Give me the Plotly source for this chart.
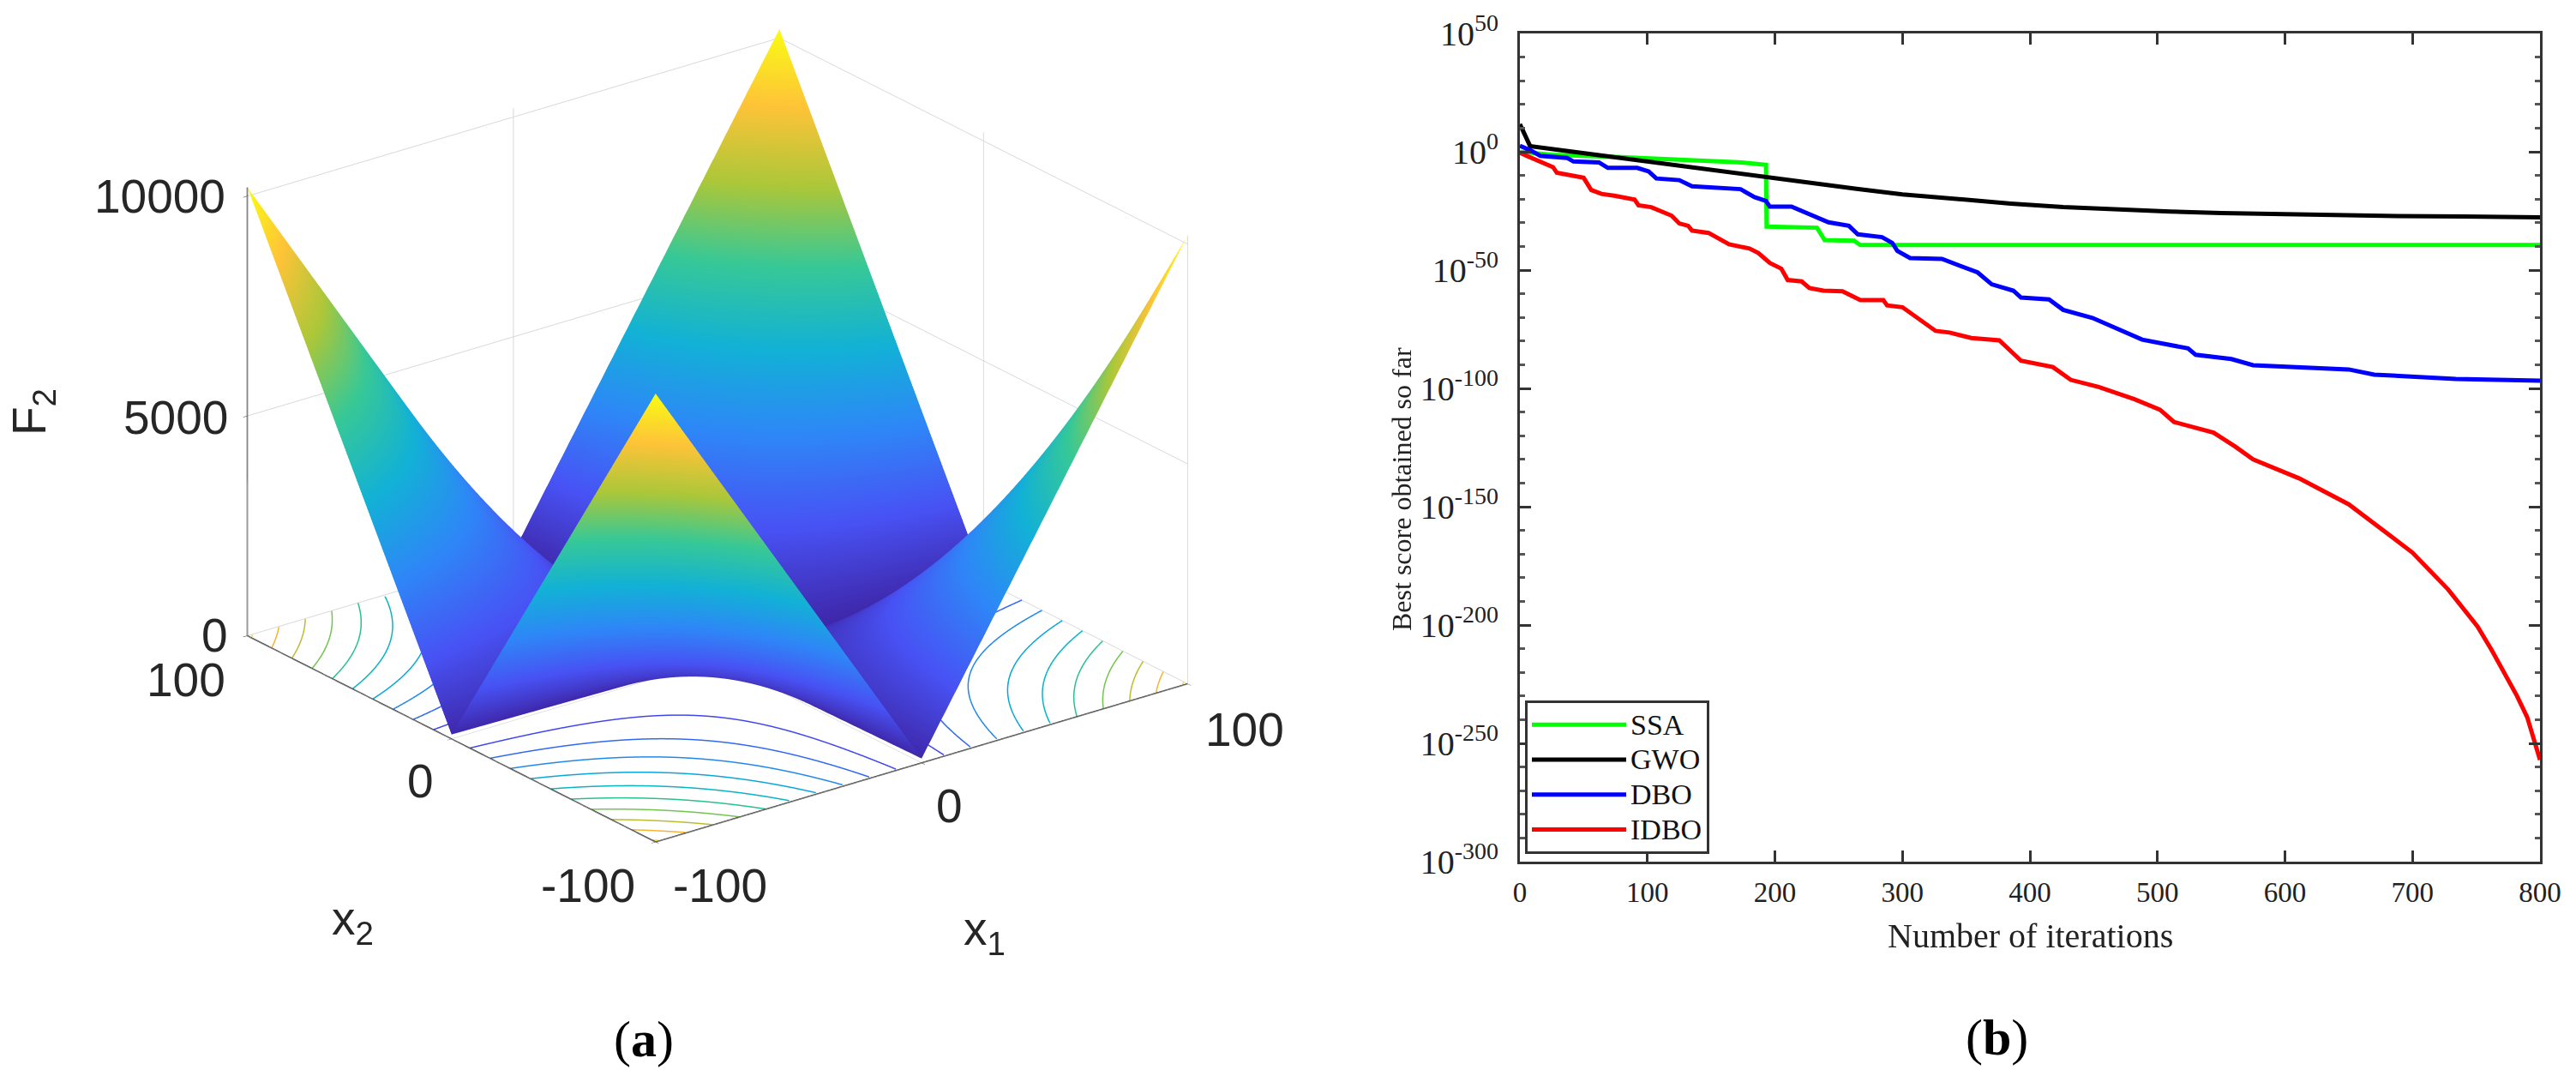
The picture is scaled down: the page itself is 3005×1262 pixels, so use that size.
import math
import plotly.graph_objects as go

W, H = 3005, 1262

# ---- panel (a): F2 heights read per quadrant, indexed by |x1| and |x2|
abs_coord = [0, 5, 10, 20, 30, 40, 50, 60, 70, 80, 90, 100]
F2_table = [
    [0, 5, 10, 20, 30, 40, 50, 60, 70, 80, 90, 100],
    [5, 35, 65, 125, 185, 245, 305, 365, 425, 485, 545, 605],
    [10, 65, 120, 230, 340, 450, 560, 670, 780, 890, 1000, 1110],
    [20, 125, 230, 440, 650, 860, 1070, 1280, 1490, 1700, 1910, 2120],
    [30, 185, 340, 650, 960, 1270, 1580, 1890, 2200, 2510, 2820, 3130],
    [40, 245, 450, 860, 1270, 1680, 2090, 2500, 2910, 3320, 3730, 4140],
    [50, 305, 560, 1070, 1580, 2090, 2600, 3110, 3620, 4130, 4640, 5150],
    [60, 365, 670, 1280, 1890, 2500, 3110, 3720, 4330, 4940, 5550, 6160],
    [70, 425, 780, 1490, 2200, 2910, 3620, 4330, 5040, 5750, 6460, 7170],
    [80, 485, 890, 1700, 2510, 3320, 4130, 4940, 5750, 6560, 7370, 8180],
    [90, 545, 1000, 1910, 2820, 3730, 4640, 5550, 6460, 7370, 8280, 9190],
    [100, 605, 1110, 2120, 3130, 4140, 5150, 6160, 7170, 8180, 9190, 10200],
]
parula = [
    [0.0, "rgb(62,38,168)"], [0.143, "rgb(72,82,244)"], [0.286, "rgb(46,135,247)"],
    [0.429, "rgb(18,177,214)"], [0.571, "rgb(55,200,151)"], [0.714, "rgb(171,199,57)"],
    [0.857, "rgb(254,195,56)"], [1.0, "rgb(249,251,21)"],
]
contour_levels = [1000, 2000, 3000, 4000, 5000, 6000, 7000, 8000, 9000, 10000]
contour_colors = ["#4046ee", "#3068f2", "#2088ea", "#0aa6da", "#08b4c4", "#28c090", "#74c450", "#bcbc30", "#f4b430", "#fbdc20"]

# ---- panel (b): convergence curves, x = iteration, value = log10(best score)
ssa_x = [0, 25, 79, 135, 171, 193, 193.5, 233, 239, 262, 267, 800]
ssa_e = [0, -1.3, -2.3, -3.7, -4.4, -5.5, -31.6, -32.1, -37.3, -37.6, -39.4, -39.4]
gwo_x = [0, 8, 30, 60, 91, 140, 192, 230, 264, 300, 342, 385, 426, 470, 510, 550, 594, 640, 678, 740, 800]
gwo_e = [11.7, 2.4, 0.8, -1.3, -3.6, -7.3, -11, -13.6, -15.7, -18, -20, -21.9, -23.4, -24.5, -25.3, -25.9, -26.4, -26.8, -27.1, -27.4, -27.7]
dbo_x = [0, 8, 16, 37, 42, 62, 69, 92, 101, 107, 125, 135, 173, 184, 193, 196, 213, 233, 242, 258, 265, 284, 292, 296, 306, 331, 359, 370, 387, 393, 415, 426, 449, 488, 524, 530, 558, 575, 650, 670, 734, 800]
dbo_e = [2.5, 0.7, -1.7, -2.6, -4.1, -4.5, -6.8, -6.8, -8.3, -11.3, -12, -14.6, -15.8, -19.2, -20.8, -23.2, -23.2, -27.9, -29.8, -31.3, -34.9, -36.1, -38.5, -41.9, -44.9, -45.3, -51, -56, -58.7, -61.6, -62.4, -66.8, -70.2, -79.4, -83.1, -85.8, -87.6, -90.2, -92, -94.2, -96, -96.7]
idbo_x = [0, 16, 26, 29, 50, 56, 64, 74, 90, 93, 103, 119, 125, 132, 135, 148, 164, 180, 187, 196, 205, 210, 221, 227, 238, 253, 267, 285, 288, 300, 309, 326, 337, 354, 376, 393, 418, 432, 454, 482, 502, 513, 544, 561, 575, 611, 650, 672, 700, 728, 751, 762, 773, 782, 790, 796, 800]
idbo_e = [-0.5, -4.1, -6.5, -8.9, -11, -16.2, -17.8, -18.6, -20.2, -22.6, -23.4, -27, -30.3, -31.3, -33.3, -34.3, -39.1, -40.9, -42.8, -47, -49.4, -54.2, -54.8, -57.6, -58.7, -59, -62.7, -62.7, -64.9, -65.7, -69, -75.7, -76.4, -78.7, -79.7, -88.3, -91, -96.4, -99.4, -104.6, -109, -114.2, -118.7, -124.6, -130, -138, -149, -158, -169.4, -185, -200.6, -210.5, -221.4, -230, -239, -249, -257]
series_names = ["SSA", "GWO", "DBO", "IDBO"]
series_colors = ["#00ff00", "#000000", "#0000ff", "#ff0000"]
x_ticks = [0, 100, 200, 300, 400, 500, 600, 700, 800]
y_major_exp = [50, 0, -50, -100, -150, -200, -250, -300]
y_minor_exp = [e for e in range(-300, 51, 10) if e % 50]
x_lim = [-100, 100]
z_lim = [0, 10200]

# ---- build surface grid
axis_vals = [-v for v in reversed(abs_coord[1:])] + abs_coord
idx = {v: i for i, v in enumerate(abs_coord)}
Z = [[F2_table[idx[abs(b)]][idx[abs(a)]] for a in axis_vals] for b in axis_vals]
flat_light = dict(ambient=1, diffuse=0, specular=0, roughness=1, fresnel=0)


def table_column(a):
    """Heights along |x2| at |x1| = a, read from F2_table."""
    for i in range(len(abs_coord) - 1):
        if a <= abs_coord[i + 1]:
            t = (a - abs_coord[i]) / (abs_coord[i + 1] - abs_coord[i])
            return [(1 - t) * p + t * q for p, q in zip(F2_table[i], F2_table[i + 1])]
    return F2_table[-1]


def level_curve(level):
    """One quadrant of a level set of F2_table, as (|x1|, |x2|) pairs."""
    pts = []
    for k in range(0, 201):
        a = k / 2
        col = table_column(a)
        if col[0] > level or col[-1] < level:
            continue
        for j in range(len(abs_coord) - 1):
            if col[j] <= level <= col[j + 1]:
                t = (level - col[j]) / (col[j + 1] - col[j])
                pts.append((a, abs_coord[j] + t * (abs_coord[j + 1] - abs_coord[j])))
                break
    return pts


fig = go.Figure()
fig.add_trace(go.Surface(
    x=axis_vals, y=axis_vals, z=Z, colorscale=parula, cmin=0, cmax=10200,
    showscale=False, lighting=flat_light, hoverinfo="skip",
    contours=dict(x=dict(highlight=False), y=dict(highlight=False), z=dict(highlight=False)),
))
for level, color in zip(contour_levels, contour_colors):
    curve = level_curve(level)
    xs, ys = [], []
    for sx, sy in [(1, 1), (1, -1), (-1, -1), (-1, 1)]:
        xs += [sx * p[0] for p in curve] + [None]
        ys += [sy * p[1] for p in curve] + [None]
    fig.add_trace(go.Scatter3d(
        x=xs, y=ys, z=[0 if v is not None else None for v in xs], mode="lines",
        line=dict(color=color, width=3), showlegend=False, hoverinfo="skip",
    ))

# dark axis lines of the 3D box, running along the axis limits
for ax_x, ax_y, ax_z in [
    (x_lim, [x_lim[0], x_lim[0]], [z_lim[0], z_lim[0]]),
    ([x_lim[0], x_lim[0]], x_lim, [z_lim[0], z_lim[0]]),
    ([x_lim[0], x_lim[0]], [x_lim[1], x_lim[1]], z_lim),
]:
    fig.add_trace(go.Scatter3d(x=ax_x, y=ax_y, z=ax_z, mode="lines", line=dict(color="#333333", width=3),
                               showlegend=False, hoverinfo="skip"))

for name, color, xs, es in zip(series_names, series_colors,
                               [ssa_x, gwo_x, dbo_x, idbo_x], [ssa_e, gwo_e, dbo_e, idbo_e]):
    fig.add_trace(go.Scatter(
        x=xs, y=[10.0 ** e for e in es], mode="lines",
        name='<span style="font-size:34px">%s</span>' % name,
        line=dict(color=color, width=5), xaxis="x", yaxis="y",
    ))


def px(x):
    return x / W


def py(y):
    return 1 - y / H


def note(x, y, text, size=55, font="Liberation Sans", color="#262626", xanchor="center", rot=0):
    fig.add_annotation(xref="paper", yref="paper", x=px(x), y=py(y), text=text, showarrow=False,
                       xanchor=xanchor, yanchor="middle", textangle=rot,
                       font=dict(family=font, size=size, color=color))


note(265, 229, "10000", xanchor="right")
note(268, 487, "5000", xanchor="right")
note(268, 741, "0", xanchor="right")
note(265, 793, "100", xanchor="right")
note(490, 911, "0")
note(686, 1033, "-100")
note(840, 1033, "-100")
note(1107, 940, "0")
note(1452, 851, "100")
note(38, 481, "F<sub>2</sub>", rot=-90)
note(411, 1075, "x<sub>2</sub>")
note(1148, 1087, "x<sub>1</sub>")
note(751, 1212, "(<b>a</b>)", size=60, font="Liberation Serif", color="#000")
note(2329, 1210, "(<b>b</b>)", size=60, font="Liberation Serif", color="#000")
note(1635, 570, "Best score obtained so far", size=32, font="Liberation Serif", color="#222", rot=-90)
note(2368, 1091, "Number of iterations", size=40, font="Liberation Serif", color="#222")

az = math.radians(37.5)
el = math.radians(22.8)
R = 4.0
eye = dict(x=-R * math.sin(az) * math.cos(el), y=-R * math.cos(az) * math.cos(el), z=R * math.sin(el))
grid_c = "#d8d8d8"
axis3d = dict(showbackground=False, showspikes=False, showticklabels=False, title=dict(text=""),
              gridcolor=grid_c, gridwidth=2, zeroline=False, showline=False,
              ticks="outside", ticklen=6, tickcolor="#333333", autorange=False)
fig.update_layout(
    width=W, height=H, autosize=False, margin=dict(l=0, r=0, t=0, b=0, pad=0), showlegend=True,
    paper_bgcolor="white", plot_bgcolor="white",
    scene=dict(
        domain=dict(x=[px(37), px(1637)], y=[py(1016), 1]),
        aspectmode="manual", aspectratio=dict(x=1.54, y=1.54, z=1.117),
        camera=dict(projection=dict(type="orthographic"), eye=eye, up=dict(x=0, y=0, z=1), center=dict(x=0, y=0, z=0)),
        xaxis=dict(axis3d, range=x_lim, tickvals=[-100, 0, 100]),
        yaxis=dict(axis3d, range=x_lim, tickvals=[-100, 0, 100]),
        zaxis=dict(axis3d, range=z_lim, tickvals=[0, 5000, 10000]),
    ),
    xaxis=dict(domain=[px(1773), px(2963)], range=[0, 800], tickvals=x_ticks, ticks="inside", ticklen=13,
               tickwidth=2.5, tickcolor="#333", showline=True, linecolor="#333", linewidth=3, mirror="ticks",
               showgrid=False, zeroline=False, ticklabelstandoff=4, automargin=False,
               tickfont=dict(family="Liberation Serif", size=33, color="#222")),
    yaxis=dict(domain=[py(1005), py(39)], type="log", range=[-300, 50],
               tickvals=[10.0 ** e for e in y_major_exp],
               ticktext=["10<sup>%d</sup>" % e for e in y_major_exp],
               ticks="inside", ticklen=13, tickwidth=2.5, tickcolor="#333", showline=True, linecolor="#333",
               linewidth=3, mirror="ticks", showgrid=False, zeroline=False, ticklabelstandoff=14,
               automargin=False, tickfont=dict(family="Liberation Serif", size=40, color="#222"),
               minor=dict(tickvals=[10.0 ** e for e in y_minor_exp], ticks="inside", ticklen=6, tickwidth=2.5, tickcolor="#555", showgrid=False)),
    legend=dict(x=px(1779), y=py(996), xanchor="left", yanchor="bottom", bgcolor="white", bordercolor="#333",
                borderwidth=3, itemwidth=110, traceorder="normal", font=dict(family="Liberation Serif", size=29, color="#111")),
)
fig.write_html("out.html", config=dict(displayModeBar=False), post_script="document.body.style.margin='0';")
